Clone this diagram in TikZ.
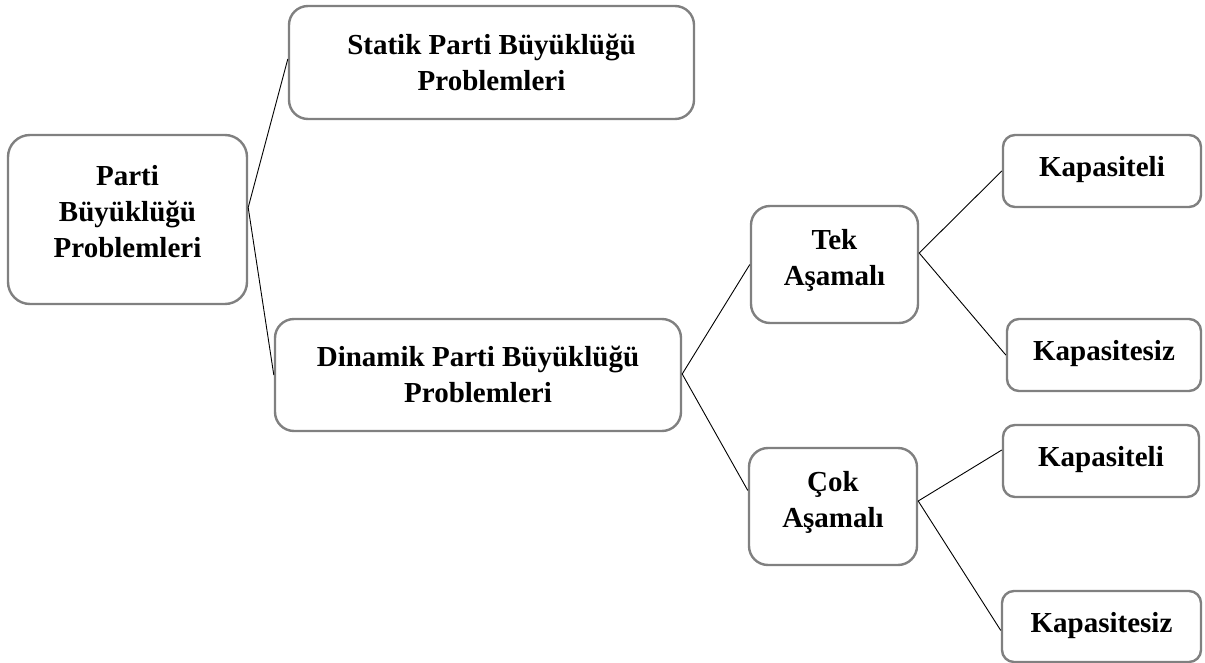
\documentclass[tikz,border=0pt]{standalone}
\usepackage{fontspec}
\setmainfont{Liberation Serif}
\usetikzlibrary{calc}
\definecolor{boxgray}{RGB}{128,128,128}
\tikzset{
  box/.style={draw=boxgray, line width=2.4pt, fill=white, rounded corners=#1, inner sep=0pt},
  box/.default=12pt,
  txt/.style={align=center, inner sep=0pt, font=\bfseries\fontsize{29}{36}\selectfont},
  conn/.style={draw=black, line width=0.9pt}
}
\begin{document}
\begin{tikzpicture}[x=1pt, y=-1pt]
\useasboundingbox (0,0) rectangle (1205,663);
% boxes
\node[box=22pt, minimum width=239pt, minimum height=169pt] (p) at (127.5,219.5) {};
\node[box=19pt, minimum width=405pt, minimum height=113pt] (s) at (491.5,62.5) {};
\node[box=19pt, minimum width=406pt, minimum height=112pt] (d) at (478,375) {};
\node[box=19pt, minimum width=167pt, minimum height=117pt] (t) at (834.5,264.5) {};
\node[box=19pt, minimum width=168pt, minimum height=117pt] (c) at (833,506.5) {};
\node[box, minimum width=198pt, minimum height=72pt] (k1) at (1102,171) {};
\node[box, minimum width=194pt, minimum height=72pt] (z1) at (1104,355) {};
\node[box, minimum width=196pt, minimum height=72pt] (k2) at (1101,461) {};
\node[box, minimum width=199pt, minimum height=71pt] (z2) at (1101.5,626.5) {};
% texts
\node[txt] (pT) at ($(p.center)+(0,-8)$) {Parti\\Büyüklüğü\\Problemleri};
\node[txt] (sT) at ($(s.center)+(0,0)$) {Statik Parti Büyüklüğü\\Problemleri};
\node[txt] (dT) at ($(d.center)+(0,-1)$) {Dinamik Parti Büyüklüğü\\Problemleri};
\node[txt] (tT) at ($(t.center)+(0,-4)$) {Tek\\Aşamalı};
\node[txt] (cT) at ($(c.center)+(0,-4)$) {Çok\\Aşamalı};
\node[txt] (k1T) at ($(k1.center)+(0,-1)$) {Kapasiteli};
\node[txt] (z1T) at ($(z1.center)+(0,-1)$) {Kapasitesiz};
\node[txt] (k2T) at ($(k2.center)+(0,-1)$) {Kapasiteli};
\node[txt] (z2T) at ($(z2.center)+(0,-1)$) {Kapasitesiz};
% connectors
\coordinate (pv) at ($(p.east)+(0,-12)$);
\coordinate (dv) at ($(d.east)+(0,-1)$);
\coordinate (tv) at ($(t.east)+(0,-11.5)$);
\coordinate (cv) at ($(c.east)+(0,-5.5)$);
\draw[conn] ($(s.west)+(0,-3.5)$) -- (pv) -- (d.west);
\draw[conn] (t.west) -- (dv) -- ($(c.west)+(0,-16)$);
\draw[conn] (k1.west) -- (tv) -- (z1.west);
\draw[conn] ($(k2.west)+(0,-11)$) -- (cv) -- ($(z2.west)+(0,4)$);
\end{tikzpicture}
\end{document}
